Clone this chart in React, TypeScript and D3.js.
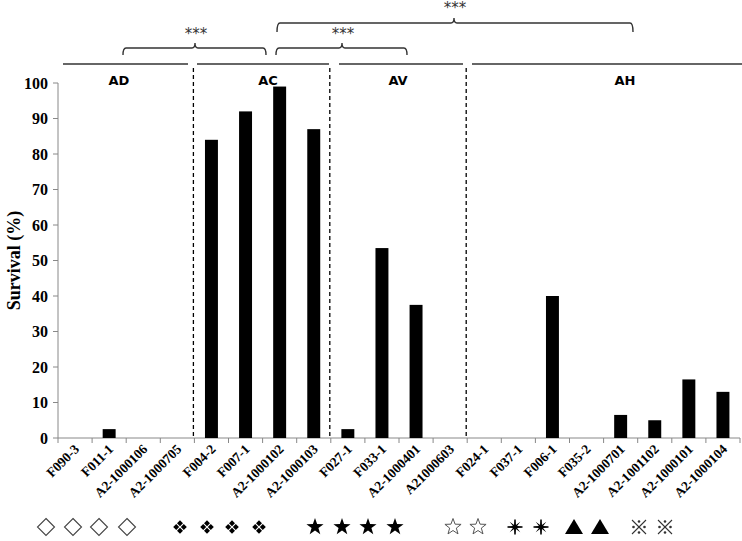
import React from "react";
import * as d3 from "d3";

const categories = [
  "F090-3", "F011-1", "A2-1000106", "A2-1000705",
  "F004-2", "F007-1", "A2-1000102", "A2-1000103",
  "F027-1", "F033-1", "A2-1000401", "A21000603",
  "F024-1", "F037-1", "F006-1", "F035-2",
  "A2-1000701", "A2-1001102", "A2-1000101", "A2-1000104",
];
const survival = [
  0, 2.5, 0, 0,
  84, 92, 99, 87,
  2.5, 53.5, 37.5, 0,
  0, 0, 40, 0,
  6.5, 5, 16.5, 13,
];
const yTicks = [0, 10, 20, 30, 40, 50, 60, 70, 80, 90, 100];
const groups = ["AD", "AC", "AV", "AH"];
const symbolKinds = [
  "diamond", "diamond", "diamond", "diamond",
  "clover", "clover", "clover", "clover",
  "star", "star", "star", "star",
  "starOpen", "starOpen", "burst", "burst",
  "triangle", "triangle", "komejirushi", "komejirushi",
];
const sigLabel = "***";

// layout
const W = 742, H = 541;
const X0 = 58, X1 = 740, Y0 = 438, Y1 = 83;
const symbolX = [46, 73, 99, 127, 180, 207, 232, 259, 315, 342, 368, 395, 453, 478, 515, 541, 574, 600, 639, 665];
const SYM_Y = 527;
const groupLabelX = [119, 268, 398, 625];
const groupLineSeg: [number, number][] = [[63, 188], [197, 329], [339, 463], [472, 742]];

function starPath(n: number, R: number, r: number) {
  const pts: [number, number][] = [];
  for (let i = 0; i < 2 * n; i++) {
    const a = -Math.PI / 2 + (i * Math.PI) / n;
    const rad = i % 2 === 0 ? R : r;
    pts.push([rad * Math.cos(a), rad * Math.sin(a)]);
  }
  return "M" + pts.map((p) => p[0].toFixed(2) + "," + p[1].toFixed(2)).join("L") + "Z";
}
const diamondPath = (s: number, cx = 0, cy = 0) =>
  `M${cx},${cy - s}L${cx + s},${cy}L${cx},${cy + s}L${cx - s},${cy}Z`;

function Symbol({ kind, x, y }: { kind: string; x: number; y: number }) {
  const t = `translate(${x},${y})`;
  switch (kind) {
    case "diamond":
      return <path transform={t} d={diamondPath(8.5)} fill="none" stroke="#444" strokeWidth={1.1} />;
    case "clover":
      return (
        <path
          transform={t}
          d={diamondPath(3, 0, -3.8) + diamondPath(3, 3.8, 0) + diamondPath(3, 0, 3.8) + diamondPath(3, -3.8, 0)}
          fill="#000"
        />
      );
    case "star":
      return <path transform={t} d={starPath(5, 9, 3.6)} fill="#000" />;
    case "starOpen":
      return <path transform={t} d={starPath(5, 8.5, 3.5)} fill="none" stroke="#555" strokeWidth={1} />;
    case "burst":
      return (
        <g transform={t}>
          <path d={starPath(8, 7.5, 2.3)} fill="#000" />
          <line x1={0} y1={-7.5} x2={0} y2={7.5} stroke="#000" strokeWidth={1.5} />
          <line x1={-7.5} y1={0} x2={7.5} y2={0} stroke="#000" strokeWidth={1.5} />
        </g>
      );
    case "triangle":
      return <path transform={t} d="M0,-8L9,7L-9,7Z" fill="#000" />;
    case "komejirushi":
      return (
        <g transform={t} stroke="#333" fill="#333">
          <line x1={-7} y1={-7} x2={7} y2={7} strokeWidth={1.1} />
          <line x1={7} y1={-7} x2={-7} y2={7} strokeWidth={1.1} />
          <circle cx={0} cy={-5.5} r={1.3} stroke="none" />
          <circle cx={0} cy={5.5} r={1.3} stroke="none" />
          <circle cx={-5.5} cy={0} r={1.3} stroke="none" />
          <circle cx={5.5} cy={0} r={1.3} stroke="none" />
        </g>
      );
    default:
      return null;
  }
}

export default function App() {
  const x = d3.scaleBand<string>().domain(categories).range([X0, X1]).paddingInner(0.62).paddingOuter(0.31);
  const y = d3.scaleLinear().domain([0, 100]).range([Y0, Y1]);
  const step = x.step();
  const serif = "'Liberation Serif', 'Times New Roman', serif";
  const sans = "'DejaVu Sans', Verdana, sans-serif";
  const boundary = (i: number) => X0 + step * i;

  const bracket = (x1: number, x2: number, yTop: number, drop: number, xc: number) =>
    `M${x1},${yTop + drop}Q${x1},${yTop} ${x1 + 3},${yTop}L${xc - 3},${yTop}Q${xc},${yTop} ${xc},${yTop - 5}Q${xc},${yTop} ${xc + 3},${yTop}L${x2 - 3},${yTop}Q${x2},${yTop} ${x2},${yTop + drop}`;

  return (
    <div style={{ position: "absolute", left: 0, top: 0 }}>
      <svg width={W} height={H} style={{ display: "block", background: "#fff" }}>
        {/* y axis */}
        <line x1={X0} x2={X0} y1={Y1} y2={Y0} stroke="#888" strokeWidth={1} />
        {yTicks.map((t) => (
          <g key={t}>
            <line x1={X0 - 5} x2={X0} y1={y(t)} y2={y(t)} stroke="#888" />
            <text x={X0 - 10} y={y(t)} dy="0.35em" textAnchor="end" fontFamily={serif} fontWeight="bold" fontSize={16}>{t}</text>
          </g>
        ))}
        <text transform={`translate(20,${(Y0 + Y1) / 2}) rotate(-90)`} textAnchor="middle" fontFamily={serif} fontWeight="bold" fontSize={18}>Survival (%)</text>
        {/* x axis */}
        <line x1={X0} x2={X1} y1={Y0} y2={Y0} stroke="#888" />
        {d3.range(categories.length + 1).map((i) => (
          <line key={i} x1={boundary(i)} x2={boundary(i)} y1={Y0} y2={Y0 + 5} stroke="#888" />
        ))}
        {/* bars */}
        {categories.map((c, i) => (
          <rect key={c} x={x(c)} y={y(survival[i])} width={x.bandwidth()} height={Y0 - y(survival[i])} fill="#000" />
        ))}
        {/* category labels */}
        {categories.map((c) => {
          const ax = (x(c) as number) + x.bandwidth() / 2 + 5;
          const ay = Y0 + 12;
          return (
            <text key={c} x={ax} y={ay} transform={`rotate(-45 ${ax} ${ay})`} textAnchor="end" fontFamily={serif} fontWeight="bold" fontSize={13.5}>{c}</text>
          );
        })}
        {/* dashed separators */}
        {[4, 8, 12].map((i) => (
          <line key={i} x1={boundary(i) - 1} x2={boundary(i) - 1} y1={68} y2={Y0} stroke="#000" strokeWidth={1.3} strokeDasharray="4,3" />
        ))}
        {/* group lines and labels */}
        {groupLineSeg.map(([a, b], i) => (
          <line key={i} x1={a} x2={b} y1={64} y2={64} stroke="#333" strokeWidth={1.5} />
        ))}
        {groups.map((g, i) => (
          <text key={g} x={groupLabelX[i]} y={85} textAnchor="middle" fontFamily={sans} fontWeight="bold" fontSize={13}>{g}</text>
        ))}
        {/* significance brackets */}
        <path d={bracket(123, 266, 48, 7, 195)} fill="none" stroke="#333" strokeWidth={1.4} />
        <text x={196} y={39} textAnchor="middle" fontFamily={sans} fontSize={15} fill="#333">{sigLabel}</text>
        <path d={bracket(276, 407, 48, 7, 342)} fill="none" stroke="#333" strokeWidth={1.4} />
        <text x={343} y={39} textAnchor="middle" fontFamily={sans} fontSize={15} fill="#333">{sigLabel}</text>
        <path d={bracket(277, 633, 23, 9, 454)} fill="none" stroke="#333" strokeWidth={1.4} />
        <text x={455} y={13} textAnchor="middle" fontFamily={sans} fontSize={15} fill="#333">{sigLabel}</text>
        {/* symbols */}
        {symbolKinds.map((k, i) => (
          <Symbol key={i} kind={k} x={symbolX[i]} y={SYM_Y} />
        ))}
      </svg>
    </div>
  );
}
